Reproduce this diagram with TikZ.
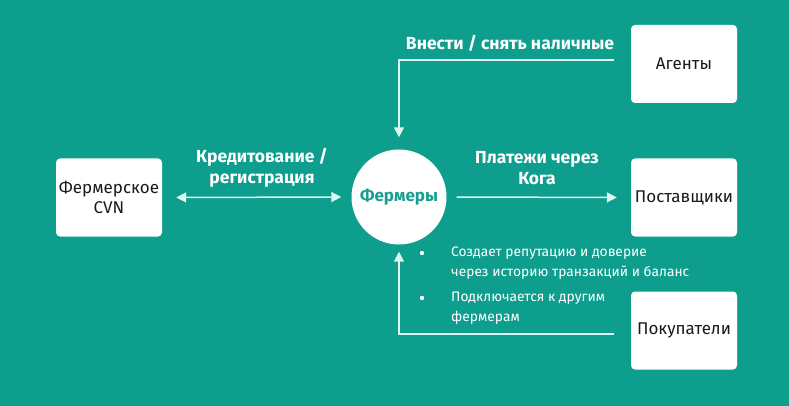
\documentclass[tikz,border=0pt]{standalone}
\usepackage{fontspec}
\setmainfont{Fira Sans}
\usetikzlibrary{arrows.meta,calc}
\definecolor{bgteal}{HTML}{0E9E8E}
\definecolor{ftteal}{HTML}{1A9E90}
\definecolor{mint}{HTML}{DDF6EF}
\definecolor{boxtext}{HTML}{1A1A1A}
\begin{document}
\begin{tikzpicture}[x=1pt,y=-1pt,
  whitebox/.style={draw=none,fill=white,rounded corners=4pt,minimum width=106pt,minimum height=78pt,inner sep=0pt,align=center,font=\fontsize{17}{20}\selectfont,text=boxtext},
  farmcircle/.style={circle,fill=white,minimum size=95pt,inner sep=0pt,font=\fontsize{17}{20}\selectfont\bfseries,text=ftteal},
  arr/.style={draw=mint,line width=1.5pt,-{Triangle[length=10pt,width=10pt]}},
  darr/.style={draw=mint,line width=1.5pt,{Triangle[length=10pt,width=10pt]}-{Triangle[length=10pt,width=10pt]}},
  lbl/.style={text=white,font=\fontsize{17.5}{20.5}\selectfont\bfseries,align=center,inner sep=0pt},
  bul/.style={text=white,font=\fontsize{13.8}{20}\selectfont,align=left,anchor=west,inner sep=0pt}
]
\fill[bgteal] (0,0) rectangle (789,406);
\useasboundingbox (0,0) rectangle (789,406);

\node[whitebox] (cvn) at (109,197.5) {Фермерское\\CVN};
\node[whitebox] (agent) at (684,64) {Агенты};
\node[whitebox] (sup) at (684,197.5) {Поставщики};
\node[whitebox] (buy) at (684,330.5) {Покупатели};
\node[farmcircle] (farmer) at (399,197) {Фермеры};

\coordinate (agstart) at ($(agent.west)+(-17,-4)$);
\coordinate (bustart) at ($(buy.west)+(-17,3.5)$);

\draw[darr,shorten <=14pt,shorten >=10pt] (cvn.east) -- (farmer.west);
\draw[arr,shorten <=10pt,shorten >=14pt] (farmer.east) -- (sup.west);
\draw[arr,shorten >=12pt] (agstart) -| (farmer.north);
\draw[arr,shorten >=7pt] (bustart) -| (farmer.south);

\node[lbl] (l1) at (262,168) {Кредитование /\\регистрация};
\node[lbl] (l2) at (537,168) {Платежи через\\Кога};
\node[lbl] (l3) at (510,43) {Внести / снять наличные};

\node[bul] (b1) at (451,263) {Создает репутацию и доверие\\через историю транзакций и баланс};
\node[bul] (b2) at (451,308) {Подключается к другим\\фермерам};
\fill[white] (422,253) circle (2.2pt);
\fill[white] (422,298) circle (2.2pt);
\end{tikzpicture}
\end{document}
